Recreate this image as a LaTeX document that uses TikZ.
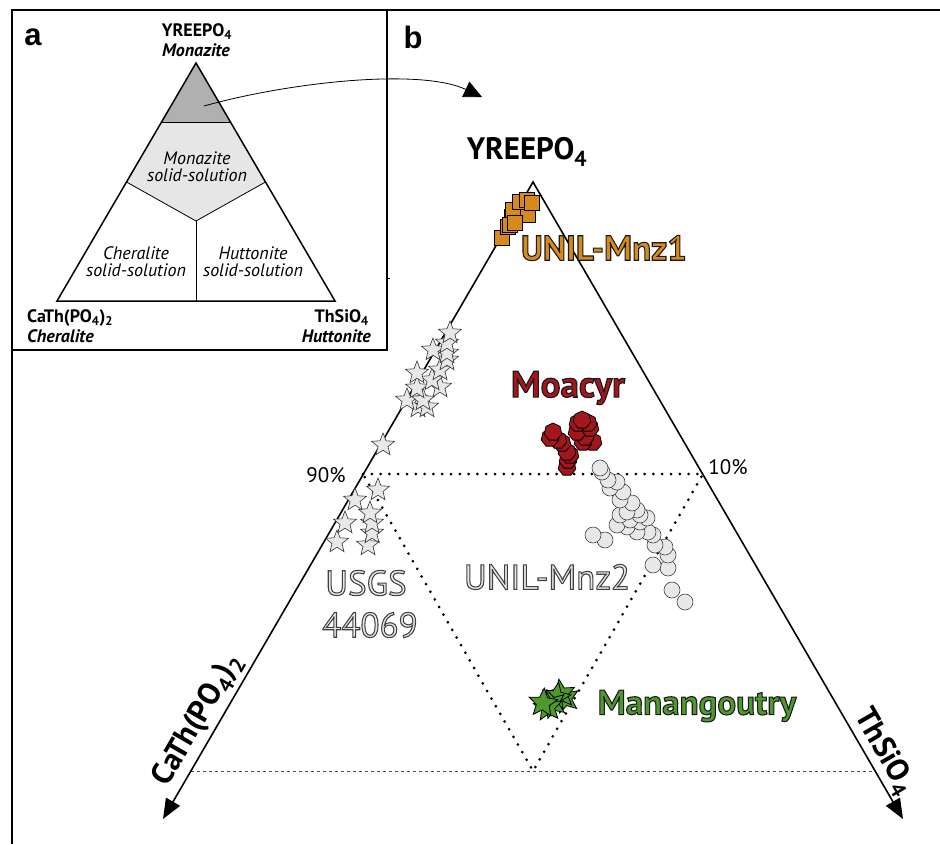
\documentclass[tikz,border=0pt]{standalone}
\usepackage{fontspec}
\setmainfont{PT Sans}
\newfontfamily\arialf{Liberation Sans}
\newfontfamily\olfont[FakeBold=3]{PT Sans}
\usetikzlibrary{arrows.meta,shapes.geometric}
\definecolor{mnzorange}{RGB}{214,137,30}
\definecolor{moared}{RGB}{163,22,28}
\definecolor{mangreen}{RGB}{78,152,44}
\definecolor{ltgrey}{RGB}{232,232,232}
\definecolor{dkfill}{RGB}{176,176,176}
\definecolor{pentfill}{RGB}{230,230,230}
\newcommand{\strokedtext}[3]{\textcolor{#2}{\special{pdf:literal direct #1}#3}}
\begin{document}
\begin{tikzpicture}[x=1pt,y=-1pt,
  sm/.style={inner sep=0, font=\fontsize{18}{20}\selectfont},
  smb/.style={inner sep=0, font=\fontsize{18}{20}\selectfont\bfseries},
  smbi/.style={inner sep=0, font=\fontsize{18}{20}\selectfont\bfseries\itshape},
  smi/.style={inner sep=0, font=\fontsize{18}{20}\selectfont\itshape, align=center},
  panel/.style={inner sep=0, font=\fontsize{31}{32}\selectfont\arialf\bfseries},
  biglbl/.style={inner sep=0, font=\olfont\fontsize{35}{38}\selectfont\bfseries},
  bigreg/.style={inner sep=0, font=\olfont\fontsize{35}{38}\selectfont},
  axislbl/.style={inner sep=0, font=\fontsize{31}{33}\selectfont\bfseries},
  sqmark/.style={rectangle, minimum size=15pt, inner sep=0, fill=mnzorange, draw=black, line width=0.8pt},
  gstar/.style={star, star points=5, star point ratio=2.3, minimum size=24pt, inner sep=0, fill=ltgrey, draw=black!80, line width=0.6pt},
  grstar/.style={star, star points=5, star point ratio=2.2, minimum size=30pt, inner sep=0, fill=mangreen, draw=black, line width=0.8pt},
  hexmark/.style={regular polygon, regular polygon sides=7, minimum size=18pt, inner sep=0, fill=moared, draw=black, line width=0.8pt},
  cmark/.style={circle, minimum size=16pt, inner sep=0, fill=ltgrey, draw=black!75, line width=0.6pt},
  axisline/.style={line width=1.6pt, line join=miter, {Triangle[length=20pt,width=16pt]}-{Triangle[length=20pt,width=16pt]}},
  dotline/.style={line width=3pt, line cap=round, dash pattern=on 0pt off 8.8pt},
  basedash/.style={line width=0.8pt, black!70, dash pattern=on 3pt off 3pt}
]
\useasboundingbox (0,0) rectangle (940,844);
% frame
\draw[line width=2pt] (940,10) -- (12,10) -- (12,844);
\draw[line width=1.4pt] (12,10) rectangle (387,350);
\draw[line width=0.8pt] (386,278) -- (390,278);

% ---------- panel a ----------
\node[panel] (la) at (33,37) {a};
\coordinate (aA) at (196,63);
\coordinate (aL) at (57,301);
\coordinate (aR) at (335,301);
\coordinate (aD1) at (161.5,122);
\coordinate (aD2) at (230.5,122);
\coordinate (aP1) at (126.5,182);
\coordinate (aP2) at (265.5,182);
\coordinate (aC) at (196,221);
\coordinate (aB) at (196,301);
\fill[dkfill] (aA) -- (aD1) -- (aD2) -- cycle;
\fill[pentfill] (aD1) -- (aD2) -- (aP2) -- (aC) -- (aP1) -- cycle;
\draw[line width=0.8pt] (aD1) -- (aD2);
\draw[line width=0.8pt] (aP1) -- (aC) -- (aP2);
\draw[line width=0.8pt] (aC) -- (aB);
\draw[line width=1.5pt, line join=miter] (aA) -- (aL) -- (aR) -- cycle;

\node[smb] (ta1) at (197,32) {YREEPO\textsubscript{4}};
\node[smbi] (ta2) at (196,50) {Monazite};
\node[smi] (ta3) at (197,167) {Monazite\\[-3pt]solid-solution};
\node[smi] (ta4) at (136,262) {Cheralite\\[-3pt]solid-solution};
\node[smi] (ta5) at (253,262) {Huttonite\\[-3pt]solid-solution};
\node[smb, anchor=west] (ta6) at (27,318) {CaTh(PO\textsubscript{4})\textsubscript{2}};
\node[smbi, anchor=west] (ta7) at (27,336) {Cheralite};
\node[smb, anchor=east] (ta8) at (369,318) {ThSiO\textsubscript{4}};
\node[smbi, anchor=east] (ta9) at (371,336) {Huttonite};

% curved arrow a -> b
\coordinate (cs) at (204,106);
\coordinate (ce) at (482,97);
\draw[line width=0.8pt, -{Triangle[length=18pt,width=17pt]}] (cs) .. controls (290,82) and (420,68) .. (ce);

% ---------- panel b ----------
\node[panel] (lb) at (413,37) {b};
\coordinate (A) at (533,182);
\coordinate (L) at (191,771);
\coordinate (R) at (875,771);
\coordinate (Lt) at (163,819);
\coordinate (Rt) at (903,819);
\coordinate (mL) at (363,474);
\coordinate (mR) at (703,474);
\coordinate (mB) at (533,771);

\draw[basedash] (L) -- (R);
\draw[dotline] (mL) -- (mR) -- (mB) -- cycle;
\draw[axisline] (Lt) -- (A) -- (Rt);

\node[inner sep=0, font=\fontsize{31}{33}\selectfont\bfseries] (tY) at (527,152) {YREEPO\textsubscript{4}};
\node[axislbl, rotate=60] (tL) at (198,720) {CaTh(PO\textsubscript{4})\textsubscript{2}};
\node[axislbl, rotate=-60] (tR) at (884,752) {ThSiO\textsubscript{4}};
\node[inner sep=0, font=\fontsize{21}{22}\selectfont] (t90) at (326,475) {90\%};
\node[inner sep=0, font=\fontsize{21}{22}\selectfont] (t10) at (728,467) {10\%};

% grey stars (USGS 44069)
\foreach \x/\y [count=\i] in {337/542,368/545,345/523,372/533,372/523,370/513,355/500,378/490,383/445,
  418/407,427/407,407/400,423/400,417/388,440/387,432/380,417/373,440/370,447/360,447/353,433/350,447/343,450/333}
  \node[gstar] (gs\i) at (\x,\y) {};

% orange squares (UNIL-Mnz1)
\foreach \x/\y [count=\i] in {502/238,508/227,512/217,510/225,520/213,528/215,513/210,520/202,527/200,532/203,515/223}
  \node[sqmark] (sq\i) at (\x,\y) {};

% red polygons (Moacyr)
\foreach \x/\y [count=\i] in {567/467,568/460,570/455,567/452,562/443,558/440,550/438,553/432,
  593/442,583/442,585/437,577/432,590/428,578/423,588/423,582/420}
  \node[hexmark] (hx\i) at (\x,\y) {};

% circles (UNIL-Mnz2)
\foreach \x/\y [count=\i] in {685/602,672/590,668/568,653/565,668/555,665/547,655/545,605/540,593/535,
  653/535,648/532,637/532,627/527,617/525,640/522,630/520,620/515,647/518,640/515,637/510,627/512,
  632/503,620/500,623/492,610/488,617/482,608/480,602/472,600/468}
  \node[cmark] (cm\i) at (\x,\y) {};

% green stars (Manangoutry)
\foreach \x/\y/\r [count=\i] in {565/699/15,561/694/8,556/697/-10,552/704/20,548/707/5,543/703/-5}
  \node[grstar, rotate=\r] (st\i) at (\x,\y) {};

% sample labels (filled and stroked text)
\node[biglbl] (l1) at (604,248) {\strokedtext{0.1 G}{mnzorange}{UNIL-Mnz1}};
\node[biglbl, font=\olfont\fontsize{37}{40}\selectfont\bfseries] (l2) at (568,388) {\strokedtext{0.1 G}{moared}{Moacyr}};
\node[biglbl] (l3) at (697,706) {\strokedtext{0.1 G}{mangreen}{Manangoutry}};
\node[bigreg] (l4) at (547,577) {\strokedtext{0.25 G}{ltgrey}{UNIL-Mnz2}};
\node[bigreg] (l5) at (366,583) {\strokedtext{0.25 G}{ltgrey}{USGS}};
\node[bigreg] (l6) at (370,625) {\strokedtext{0.25 G}{ltgrey}{44069}};
\end{tikzpicture}
\end{document}
